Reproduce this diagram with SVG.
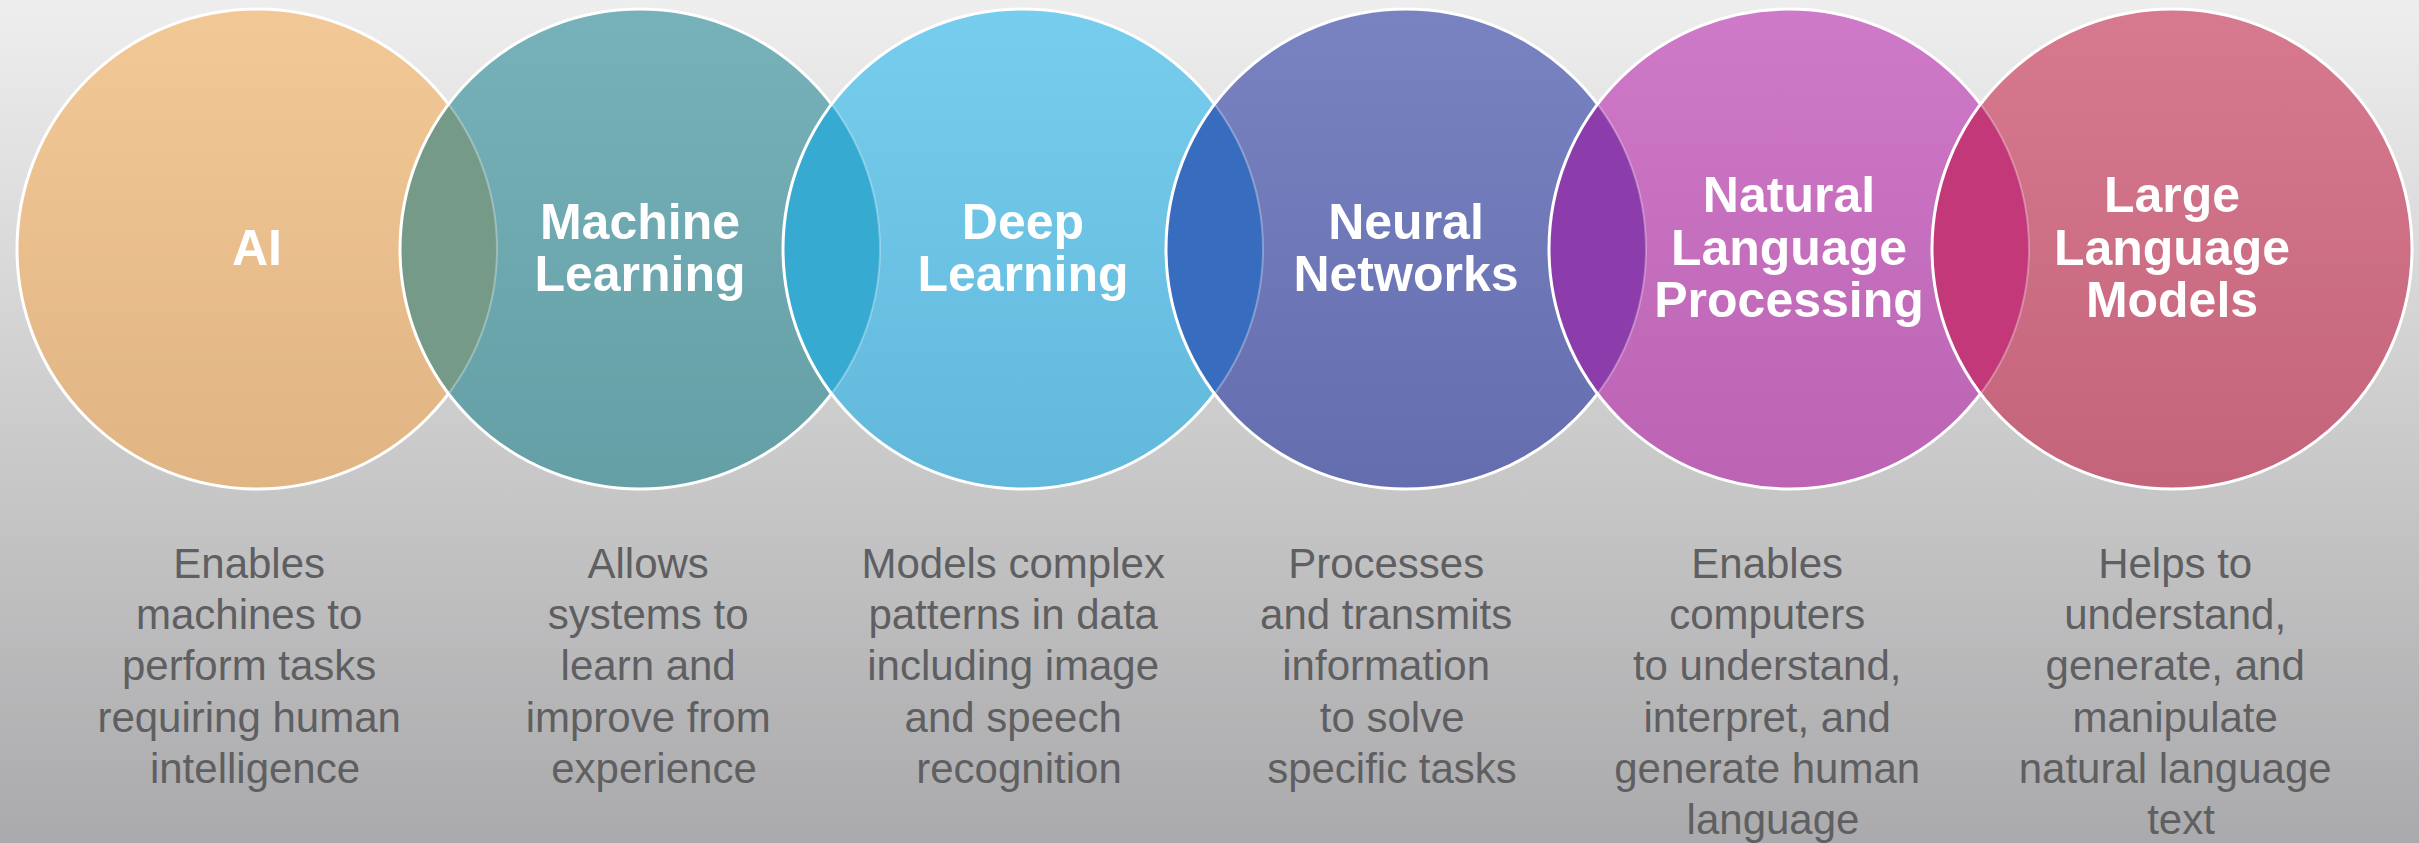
<svg xmlns="http://www.w3.org/2000/svg" width="2419" height="843" viewBox="0 0 2419 843">
  <style>
    .title { font-family: "Liberation Sans", Arial, sans-serif; font-weight: bold; font-size: 50px; fill: #ffffff; text-anchor: middle; }
    .desc { font-family: "Liberation Sans", Arial, sans-serif; font-size: 42px; fill: #5f5f62; text-anchor: middle; }
    .outline { fill: none; stroke: #ffffff; stroke-width: 3; }
    .faint { fill: none; stroke: #ffffff; stroke-opacity: 0.3; stroke-width: 2; }
  </style>
  <defs>
    <linearGradient id="bg" x1="0" y1="0" x2="0" y2="1">
      <stop offset="0" stop-color="#eeeeee"/>
      <stop offset="1" stop-color="#aaaaac"/>
    </linearGradient>
    <linearGradient id="g1" x1="0" y1="0" x2="0" y2="1"><stop offset="0" stop-color="#f2c996"/><stop offset="1" stop-color="#e0b483"/></linearGradient>
    <linearGradient id="g2" x1="0" y1="0" x2="0" y2="1"><stop offset="0" stop-color="#77b1b9"/><stop offset="1" stop-color="#649fa6"/></linearGradient>
    <linearGradient id="g3" x1="0" y1="0" x2="0" y2="1"><stop offset="0" stop-color="#76cded"/><stop offset="1" stop-color="#61b8db"/></linearGradient>
    <linearGradient id="g4" x1="0" y1="0" x2="0" y2="1"><stop offset="0" stop-color="#7983c1"/><stop offset="1" stop-color="#646eaf"/></linearGradient>
    <linearGradient id="g5" x1="0" y1="0" x2="0" y2="1"><stop offset="0" stop-color="#cf79c9"/><stop offset="1" stop-color="#bc63b3"/></linearGradient>
    <linearGradient id="g6" x1="0" y1="0" x2="0" y2="1"><stop offset="0" stop-color="#d7798f"/><stop offset="1" stop-color="#c3647b"/></linearGradient>
    <clipPath id="c1"><circle cx="257" cy="249" r="240"/></clipPath>
    <clipPath id="c2"><circle cx="640" cy="249" r="240"/></clipPath>
    <clipPath id="c3"><circle cx="1023" cy="249" r="240"/></clipPath>
    <clipPath id="c4"><circle cx="1406" cy="249" r="240"/></clipPath>
    <clipPath id="c5"><circle cx="1789" cy="249" r="240"/></clipPath>
    <clipPath id="c6"><circle cx="2172" cy="249" r="240"/></clipPath>
  </defs>

  <rect x="0" y="0" width="2419" height="843" fill="url(#bg)"/>

  <g id="connectors"/>

  <g id="node-ai">
    <circle cx="257" cy="249" r="240" fill="url(#g1)"/>
    <circle class="outline" cx="257" cy="249" r="240"/>
    <text class="title" x="257" y="265">AI</text>
    <text class="desc">
      <tspan x="255" y="578">Enables</tspan>
      <tspan x="255" y="629">machines to</tspan>
      <tspan x="255" y="680">perform tasks</tspan>
      <tspan x="255" y="732">requiring human</tspan>
      <tspan x="255" y="783">intelligence</tspan>
    </text>
  </g>

  <g id="node-ml">
    <circle cx="640" cy="249" r="240" fill="url(#g2)"/>
    <circle cx="640" cy="249" r="240" fill="#769a88" clip-path="url(#c1)"/>
    <circle class="faint" cx="257" cy="249" r="240" clip-path="url(#c2)"/>
    <circle class="outline" cx="640" cy="249" r="240"/>
    <text class="title"><tspan x="640" y="239">Machine</tspan><tspan x="640" y="291">Learning</tspan></text>
    <text class="desc">
      <tspan x="654" y="578">Allows</tspan>
      <tspan x="654" y="629">systems to</tspan>
      <tspan x="654" y="680">learn and</tspan>
      <tspan x="654" y="732">improve from</tspan>
      <tspan x="654" y="783">experience</tspan>
    </text>
  </g>

  <g id="node-dl">
    <circle cx="1023" cy="249" r="240" fill="url(#g3)"/>
    <circle cx="1023" cy="249" r="240" fill="#37aad2" clip-path="url(#c2)"/>
    <circle class="faint" cx="640" cy="249" r="240" clip-path="url(#c3)"/>
    <circle class="outline" cx="1023" cy="249" r="240"/>
    <text class="title"><tspan x="1023" y="239">Deep</tspan><tspan x="1023" y="291">Learning</tspan></text>
    <text class="desc">
      <tspan x="1019" y="578">Models complex</tspan>
      <tspan x="1019" y="629">patterns in data</tspan>
      <tspan x="1019" y="680">including image</tspan>
      <tspan x="1019" y="732">and speech</tspan>
      <tspan x="1019" y="783">recognition</tspan>
    </text>
  </g>

  <g id="node-nn">
    <circle cx="1406" cy="249" r="240" fill="url(#g4)"/>
    <circle cx="1406" cy="249" r="240" fill="#386cbf" clip-path="url(#c3)"/>
    <circle class="faint" cx="1023" cy="249" r="240" clip-path="url(#c4)"/>
    <circle class="outline" cx="1406" cy="249" r="240"/>
    <text class="title"><tspan x="1406" y="239">Neural</tspan><tspan x="1406" y="291">Networks</tspan></text>
    <text class="desc">
      <tspan x="1392" y="578">Processes</tspan>
      <tspan x="1392" y="629">and transmits</tspan>
      <tspan x="1392" y="680">information</tspan>
      <tspan x="1398" y="732">to solve</tspan>
      <tspan x="1392" y="783">specific tasks</tspan>
    </text>
  </g>

  <g id="node-nlp">
    <circle cx="1789" cy="249" r="240" fill="url(#g5)"/>
    <circle cx="1789" cy="249" r="240" fill="#8c3dab" clip-path="url(#c4)"/>
    <circle class="faint" cx="1406" cy="249" r="240" clip-path="url(#c5)"/>
    <circle class="outline" cx="1789" cy="249" r="240"/>
    <text class="title"><tspan x="1789" y="212">Natural</tspan><tspan x="1789" y="265">Language</tspan><tspan x="1789" y="317">Processing</tspan></text>
    <text class="desc">
      <tspan x="1773" y="578">Enables</tspan>
      <tspan x="1773" y="629">computers</tspan>
      <tspan x="1773" y="680">to understand,</tspan>
      <tspan x="1773" y="732">interpret, and</tspan>
      <tspan x="1773" y="783">generate human</tspan>
      <tspan x="1773" y="834">language</tspan>
    </text>
  </g>

  <g id="node-llm">
    <circle cx="2172" cy="249" r="240" fill="url(#g6)"/>
    <circle cx="2172" cy="249" r="240" fill="#c23878" clip-path="url(#c5)"/>
    <circle class="faint" cx="1789" cy="249" r="240" clip-path="url(#c6)"/>
    <circle class="outline" cx="2172" cy="249" r="240"/>
    <text class="title"><tspan x="2172" y="212">Large</tspan><tspan x="2172" y="265">Language</tspan><tspan x="2172" y="317">Models</tspan></text>
    <text class="desc">
      <tspan x="2181" y="578">Helps to</tspan>
      <tspan x="2181" y="629">understand,</tspan>
      <tspan x="2181" y="680">generate, and</tspan>
      <tspan x="2181" y="732">manipulate</tspan>
      <tspan x="2181" y="783">natural language</tspan>
      <tspan x="2181" y="834">text</tspan>
    </text>
  </g>
</svg>
